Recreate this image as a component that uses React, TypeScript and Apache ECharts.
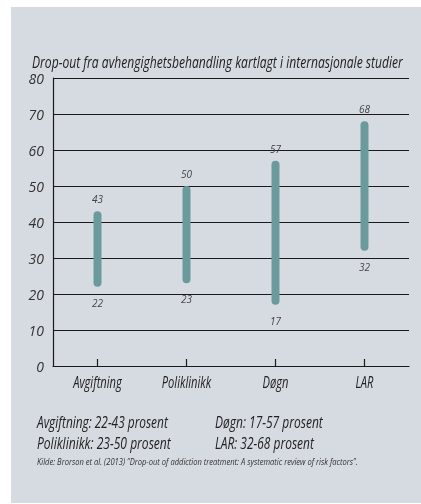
import React, { useEffect, useRef } from "react";
import * as echarts from "echarts";

const categories = ["Avgiftning", "Poliklinikk", "Døgn", "LAR"];
const lowValues = [22, 23, 17, 32];
const highValues = [43, 50, 57, 68];
const yTicks = [0, 10, 20, 30, 40, 50, 60, 70, 80];
const title = "Drop-out fra avhengighetsbehandling kartlagt i internasjonale studier";
const source = "Kilde: Brorson et al. (2013) \u201dDrop-out of addiction treatment: A systematic review of risk factors\u201d.";

const FONT = "'Open Sans', 'Liberation Sans', sans-serif";
const CONDENSE = 0.72;

let measureCtx: CanvasRenderingContext2D | null = null;
function measure(text: string, size: number): number {
  if (!measureCtx) measureCtx = document.createElement("canvas").getContext("2d");
  if (!measureCtx) return text.length * size * 0.5;
  measureCtx.font = `italic ${size}px ${FONT}`;
  return measureCtx.measureText(text).width;
}

export default function App() {
  const ref = useRef<HTMLDivElement>(null);
  useEffect(() => {
    if (!ref.current) return;
    const chart = echarts.init(ref.current, null, { renderer: "svg" });
    const rangeText = (i: number) => `${categories[i]}: ${lowValues[i]}-${highValues[i]} prosent`;
    const txt = (
      x: number,
      y: number,
      text: string,
      size: number,
      width: number | null,
      color = "#222",
      align = "left"
    ) => ({
      type: "text",
      x,
      y,
      scaleX: width ? width / measure(text, size) : CONDENSE,
      style: {
        text,
        fontSize: size,
        fontFamily: FONT,
        fontStyle: "italic",
        fill: color,
        align,
        verticalAlign: "middle",
      },
    });
    const dataLabel = {
      show: true,
      fontFamily: FONT,
      fontStyle: "italic",
      fontSize: 10,
      color: "#444",
    };
    chart.setOption({
      animation: false,
      grid: { left: 53, right: 12, top: 78, bottom: 138 },
      xAxis: {
        type: "category",
        data: categories,
        axisLine: { lineStyle: { color: "#1a1a1a", width: 1.2 } },
        axisTick: { show: true, inside: true, length: 7, alignWithLabel: true, lineStyle: { color: "#1a1a1a", width: 1.2 } },
        axisLabel: { show: false },
      },
      yAxis: {
        type: "value",
        min: 0,
        max: 80,
        interval: 10,
        axisLine: { show: true, lineStyle: { color: "#1a1a1a", width: 1.2 } },
        axisTick: { show: false },
        splitLine: { lineStyle: { color: "#1a1a1a", width: 1 } },
        axisLabel: {
          fontFamily: FONT,
          fontStyle: "italic",
          fontSize: 14,
          color: "#333",
          margin: 9,
          formatter: (v: number) => (yTicks.includes(v) ? String(v) : ""),
        },
      },
      series: [
        {
          type: "bar",
          stack: "r",
          barWidth: 8,
          data: lowValues,
          itemStyle: { color: "rgba(0,0,0,0)" },
          label: { ...dataLabel, position: "insideTop", distance: 11 },
          silent: true,
        },
        {
          type: "bar",
          stack: "r",
          barWidth: 8,
          data: highValues.map((h, i) => h - lowValues[i]),
          itemStyle: { color: "#6a9a9c", borderRadius: 4 },
          label: {
            ...dataLabel,
            position: "top",
            distance: 7,
            formatter: (p: any) => String(highValues[p.dataIndex]),
          },
        },
      ],
    });
    const zeroY = chart.convertToPixel({ yAxisIndex: 0 }, 0) as number;
    const xLabels = categories.map((c, i) =>
      txt(chart.convertToPixel({ xAxisIndex: 0 }, i) as number, zeroY + 16, c, 15.5, null, "#222", "center")
    );
    chart.setOption({
      graphic: [
        { type: "rect", z: -10, shape: { x: 11, y: 7, width: 410, height: 496 }, style: { fill: "#d6dae1" } },
        txt(32, 62, title, 16, 371),
        txt(37, 422, rangeText(0), 16, 131),
        txt(37, 443, rangeText(1), 16, 134),
        txt(215, 422, rangeText(2), 16, 108),
        txt(215, 443, rangeText(3), 16, 99),
        txt(37, 461, source, 9, 321, "#333"),
        ...xLabels,
      ],
    });
    return () => chart.dispose();
  }, []);
  return <div ref={ref} style={{ position: "fixed", left: 0, top: 0, width: 421, height: 504 }} />;
}
